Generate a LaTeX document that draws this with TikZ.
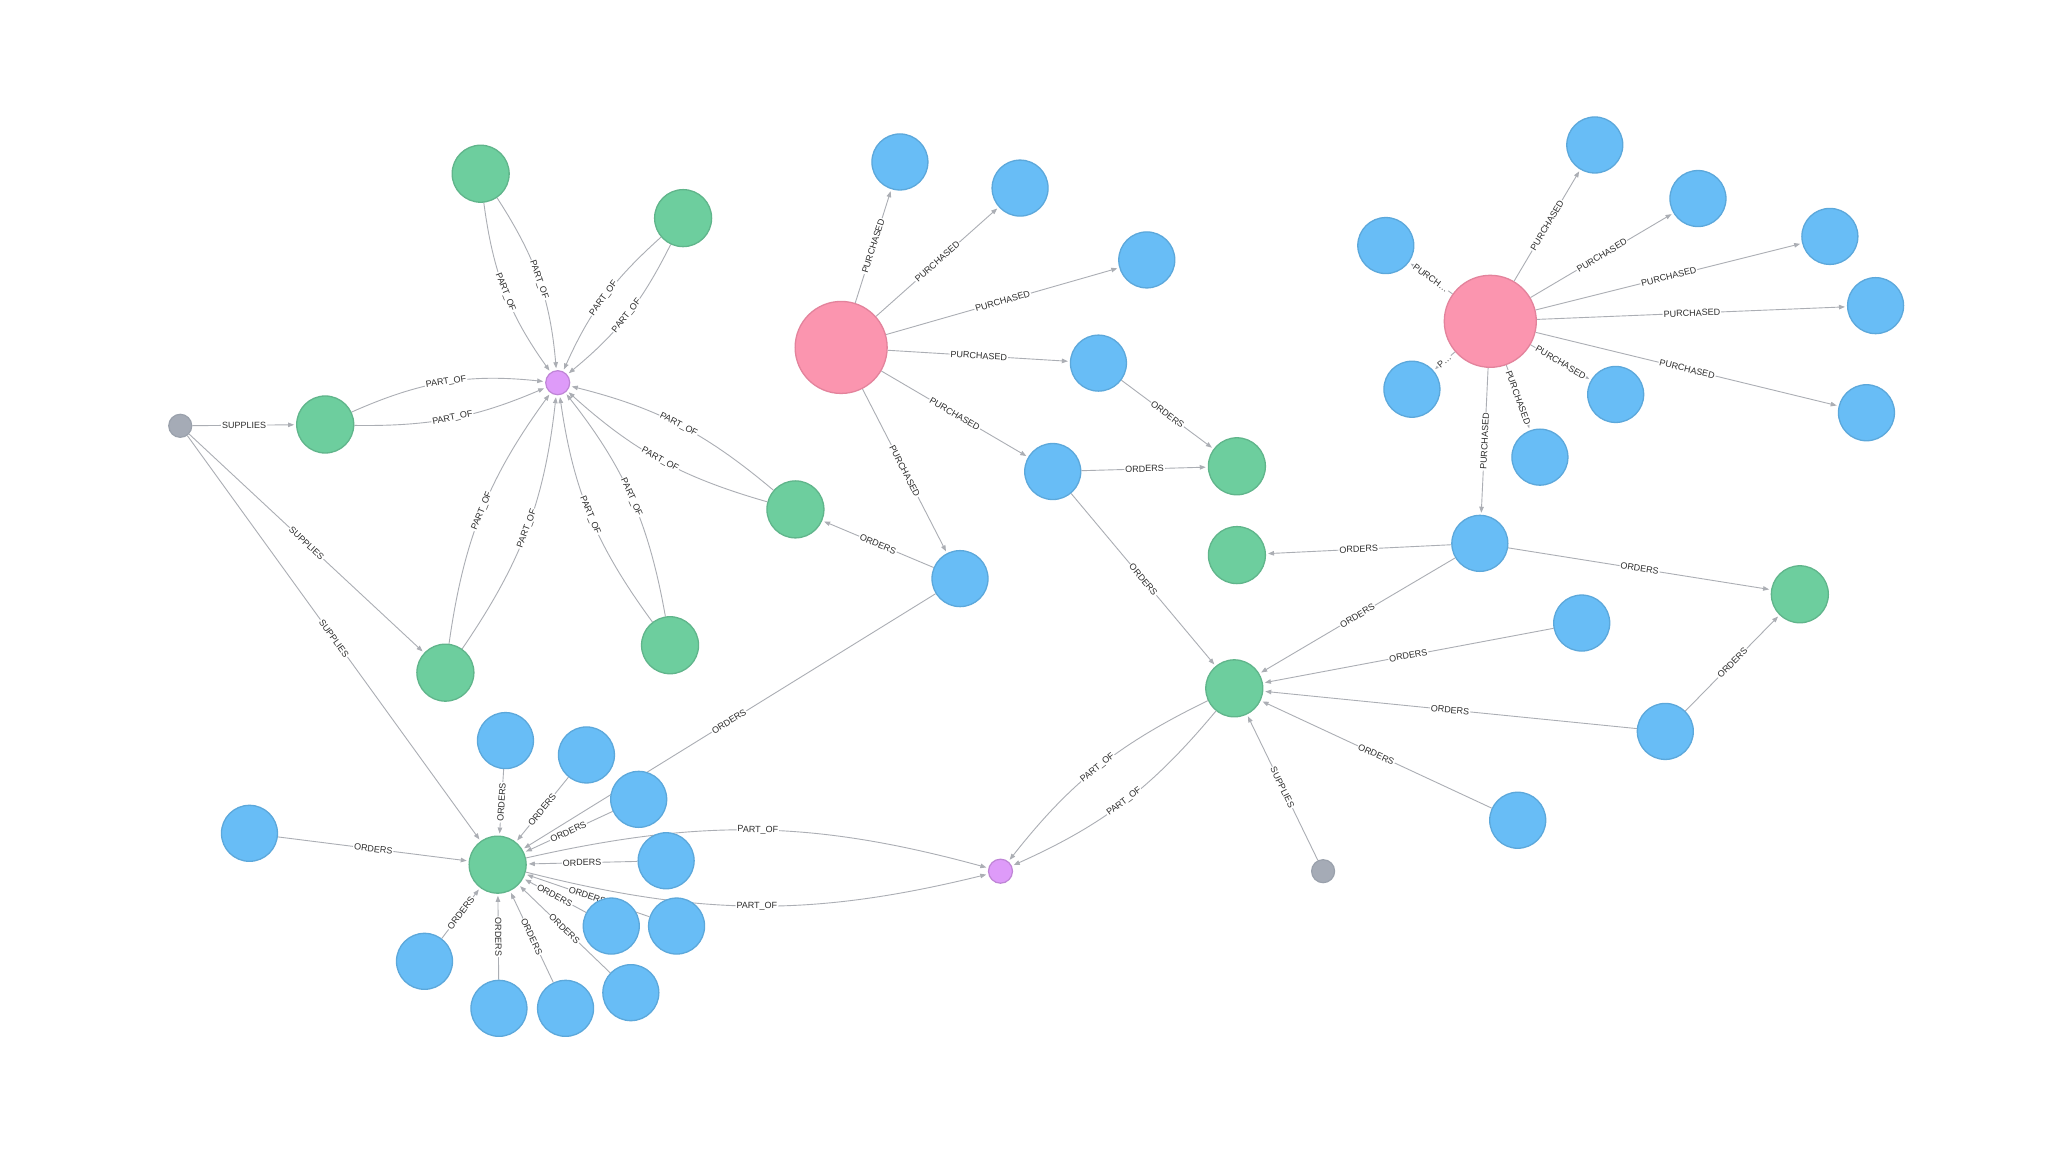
\documentclass[tikz,border=0pt]{standalone}
\usepackage{fontspec}
\setmainfont{Liberation Sans}
\usetikzlibrary{arrows.meta}
\definecolor{custfill}{HTML}{FB95AF}
\definecolor{custline}{HTML}{E3839C}
\definecolor{orderfill}{HTML}{68BDF6}
\definecolor{orderline}{HTML}{5CA8DB}
\definecolor{prodfill}{HTML}{6DCE9E}
\definecolor{prodline}{HTML}{60B58B}
\definecolor{catfill}{HTML}{DE9BF9}
\definecolor{catline}{HTML}{BF85D6}
\definecolor{supfill}{HTML}{A5ABB6}
\definecolor{supline}{HTML}{9AA1AC}
\definecolor{relgray}{HTML}{ABAEB4}
\definecolor{lblgray}{HTML}{2E2E2E}
\pgfdeclarelayer{backdrop}
\pgfdeclarelayer{rels}
\pgfsetlayers{backdrop,rels,main}

\begin{document}
\begin{tikzpicture}[x=1.306pt,y=-1.306pt,
    customer/.style={circle,minimum size=92pt,inner sep=0pt,fill=custfill,draw=custline,line width=1.3pt},
    order/.style={circle,minimum size=56pt,inner sep=0pt,fill=orderfill,draw=orderline,line width=1.3pt},
    product/.style={circle,minimum size=57pt,inner sep=0pt,fill=prodfill,draw=prodline,line width=1.3pt},
    category/.style={circle,minimum size=24pt,inner sep=0pt,fill=catfill,draw=catline,line width=1.2pt},
    supplier/.style={circle,minimum size=23pt,inner sep=0pt,fill=supfill,draw=supline,line width=1.2pt},
    rel/.style={draw=relgray,line width=0.9pt,shorten >=2pt,-{Triangle[length=6pt,width=4.5pt,fill=relgray]}},
    lbl/.style={sloped,fill=white,inner sep=1pt,text=lblgray,font=\fontsize{9}{9}\selectfont}]
    \begin{pgfonlayer}{backdrop}
        \fill[white] (0,0) rectangle (1568,882);
    \end{pgfonlayer}
    % suppliers and categories
    \node[supplier] (supA) at (138,326) {};
    \node[supplier] (supB) at (1013,667) {};
    \node[category] (catA) at (427,293) {};
    \node[category] (catB) at (766,667) {};
    % products
    \node[product] (prA) at (249,325) {};
    \node[product] (prB) at (368,133) {};
    \node[product] (prC) at (523,167) {};
    \node[product] (prD) at (609,390) {};
    \node[product] (prE) at (513,494) {};
    \node[product] (prF) at (341,515) {};
    \node[product] (prG) at (947,357) {};
    \node[product] (prH) at (381,662) {};
    \node[product] (prI) at (947,425) {};
    \node[product] (prJ) at (1378,455) {};
    \node[product] (prK) at (945,527) {};
    % customers
    \node[customer] (custA) at (644,266) {};
    \node[customer] (custB) at (1141,246) {};
    % orders
    \node[order] (oA1) at (689,124) {};
    \node[order] (oA2) at (781,144) {};
    \node[order] (oA3) at (878,199) {};
    \node[order] (oA4) at (841,278) {};
    \node[order] (oA5) at (806,361) {};
    \node[order] (oA6) at (735,443) {};
    \node[order] (oB1) at (1221,111) {};
    \node[order] (oB2) at (1300,152) {};
    \node[order] (oB3) at (1401,181) {};
    \node[order] (oB4) at (1436,234) {};
    \node[order] (oB5) at (1429,316) {};
    \node[order] (oB6) at (1237,302) {};
    \node[order] (oB7) at (1179,350) {};
    \node[order] (oB8) at (1081,298) {};
    \node[order] (oB9) at (1061,188) {};
    \node[order] (oB10) at (1133,416) {};
    \node[order] (oC1) at (1211,477) {};
    \node[order] (oC2) at (1275,560) {};
    \node[order] (oC3) at (1162,628) {};
    \node[order] (oD1) at (191,638) {};
    \node[order] (oD2) at (387,567) {};
    \node[order] (oD3) at (449,578) {};
    \node[order] (oD4) at (489,612) {};
    \node[order] (oD5) at (510,659) {};
    \node[order] (oD6) at (518,709) {};
    \node[order] (oD7) at (468,709) {};
    \node[order] (oD8) at (483,760) {};
    \node[order] (oD9) at (433,772) {};
    \node[order] (oD10) at (382,772) {};
    \node[order] (oD11) at (325,736) {};

    \begin{pgfonlayer}{rels}
    % supplies
    \draw[rel] (supA) -- node[lbl]{SUPPLIES} (prA);
    \draw[rel] (supA) -- node[lbl]{SUPPLIES} (prF);
    \draw[rel] (supA) -- node[lbl]{SUPPLIES} (prH);
    \draw[rel] (supB) -- node[lbl]{SUPPLIES} (prK);
    % part of
    \draw[rel] (prA) to[bend left=15] node[lbl]{PART\_OF} (catA);
    \draw[rel] (prA) to[bend right=12] node[lbl]{PART\_OF} (catA);
    \draw[rel] (prB) to[bend left=14] node[lbl]{PART\_OF} (catA);
    \draw[rel] (prB) to[bend right=14] node[lbl]{PART\_OF} (catA);
    \draw[rel] (prC) to[bend left=12] node[lbl]{PART\_OF} (catA);
    \draw[rel] (prC) to[bend right=12] node[lbl]{PART\_OF} (catA);
    \draw[rel] (prD) to[bend left=13] node[lbl]{PART\_OF} (catA);
    \draw[rel] (prD) to[bend right=13] node[lbl]{PART\_OF} (catA);
    \draw[rel] (prE) to[bend left=14] node[lbl]{PART\_OF} (catA);
    \draw[rel] (prE) to[bend right=14] node[lbl]{PART\_OF} (catA);
    \draw[rel] (prF) to[bend left=14] node[lbl]{PART\_OF} (catA);
    \draw[rel] (prF) to[bend right=14] node[lbl]{PART\_OF} (catA);
    \draw[rel] (prH) to[bend left=14] node[lbl]{PART\_OF} (catB);
    \draw[rel] (prH) to[bend right=14] node[lbl]{PART\_OF} (catB);
    \draw[rel] (prK) to[bend left=13] node[lbl]{PART\_OF} (catB);
    \draw[rel] (prK) to[bend right=13] node[lbl]{PART\_OF} (catB);
    % purchased
    \draw[rel] (custA) -- node[lbl]{PURCHASED} (oA1);
    \draw[rel] (custA) -- node[lbl]{PURCHASED} (oA2);
    \draw[rel] (custA) -- node[lbl]{PURCHASED} (oA3);
    \draw[rel] (custA) -- node[lbl]{PURCHASED} (oA4);
    \draw[rel] (custA) -- node[lbl]{PURCHASED} (oA5);
    \draw[rel] (custA) -- node[lbl]{PURCHASED} (oA6);
    \draw[rel] (custB) -- node[lbl]{PURCHASED} (oB1);
    \draw[rel] (custB) -- node[lbl]{PURCHASED} (oB2);
    \draw[rel] (custB) -- node[lbl]{PURCHASED} (oB3);
    \draw[rel] (custB) -- node[lbl]{PURCHASED} (oB4);
    \draw[rel] (custB) -- node[lbl]{PURCHASED} (oB5);
    \draw[rel] (custB) -- node[lbl]{PURCHASED} (oB6);
    \draw[rel] (custB) -- node[lbl]{PURCHASED} (oB7);
    \draw[rel] (custB) -- node[lbl]{P…} (oB8);
    \draw[rel] (custB) -- node[lbl]{PURCH…} (oB9);
    \draw[rel] (custB) -- node[lbl]{PURCHASED} (oB10);
    % orders
    \draw[rel] (oA4) -- node[lbl]{ORDERS} (prG);
    \draw[rel] (oA5) -- node[lbl]{ORDERS} (prG);
    \draw[rel] (oA5) -- node[lbl]{ORDERS} (prK);
    \draw[rel] (oA6) -- node[lbl]{ORDERS} (prD);
    \draw[rel] (oA6) -- node[lbl]{ORDERS} (prH);
    \draw[rel] (oB10) -- node[lbl]{ORDERS} (prI);
    \draw[rel] (oB10) -- node[lbl]{ORDERS} (prK);
    \draw[rel] (oB10) -- node[lbl]{ORDERS} (prJ);
    \draw[rel] (oC1) -- node[lbl]{ORDERS} (prK);
    \draw[rel] (oC2) -- node[lbl]{ORDERS} (prK);
    \draw[rel] (oC2) -- node[lbl]{ORDERS} (prJ);
    \draw[rel] (oC3) -- node[lbl]{ORDERS} (prK);
    \draw[rel] (oD1) -- node[lbl]{ORDERS} (prH);
    \draw[rel] (oD2) -- node[lbl]{ORDERS} (prH);
    \draw[rel] (oD3) -- node[lbl]{ORDERS} (prH);
    \draw[rel] (oD4) -- node[lbl]{ORDERS} (prH);
    \draw[rel] (oD5) -- node[lbl]{ORDERS} (prH);
    \draw[rel] (oD6) -- node[lbl]{ORDERS} (prH);
    \draw[rel] (oD7) -- node[lbl]{ORDERS} (prH);
    \draw[rel] (oD8) -- node[lbl]{ORDERS} (prH);
    \draw[rel] (oD9) -- node[lbl]{ORDERS} (prH);
    \draw[rel] (oD10) -- node[lbl]{ORDERS} (prH);
    \draw[rel] (oD11) -- node[lbl]{ORDERS} (prH);
    \end{pgfonlayer}
\end{tikzpicture}
\end{document}
